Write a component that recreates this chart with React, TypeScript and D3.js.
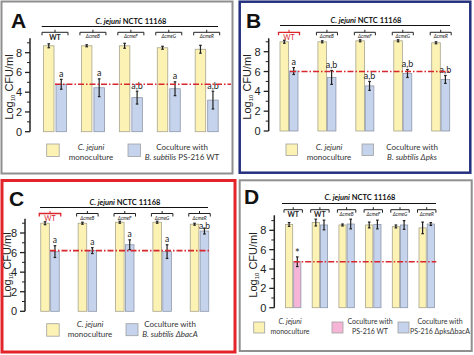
import React from "react";
import * as d3 from "d3";

// ---------- data ----------
const strainsABC = ["WT", "ΔcmeB", "ΔcmeF", "ΔcmeG", "ΔcmeR"];
const strainsD = ["WT", "WT", "ΔcmeB", "ΔcmeF", "ΔcmeG", "ΔcmeR"];
const yTicks = [0, 2, 4, 6, 8];
const yMinorTicks = [1, 3, 5, 7, 9];

const monoA = [8.7, 8.7, 8.7, 8.5, 8.35];
const monoErrA = [0.2, 0.1, 0.25, 0.15, 0.4];
const coA = [4.8, 4.45, 3.45, 4.35, 3.2];
const coErrA = [0.5, 0.9, 0.65, 0.7, 0.9];
const sigA = ["a", "a", "a,b", "a", "a,b"];
const refA = 4.8;

const monoB = [9.0, 9.0, 9.1, 9.1, 8.9];
const monoErrB = [0.15, 0.1, 0.1, 0.1, 0.1];
const coB = [6.05, 5.4, 4.55, 5.8, 5.2];
const coErrB = [0.35, 0.7, 0.45, 0.4, 0.4];
const sigB = ["a", "a,b", "a,b", "a,b", "a,b"];
const refB = 6.0;

const monoC = [9.0, 9.0, 9.1, 9.1, 8.9];
const monoErrC = [0.15, 0.1, 0.1, 0.1, 0.1];
const coC = [6.1, 6.2, 6.8, 6.1, 8.2];
const coErrC = [0.6, 0.3, 0.5, 0.7, 0.3];
const sigC = ["a", "a", "a", "a", "a,b"];
const refC = 6.2;

const monoD = [8.6, 8.8, 8.55, 8.55, 8.4, 8.25];
const monoErrD = [0.2, 0.35, 0.1, 0.3, 0.15, 0.6];
const coD = [4.75, 8.55, 8.65, 8.6, 8.55, 8.65];
const coErrD = [0.5, 0.5, 0.5, 0.45, 0.45, 0.15];
const sigD = ["*", "", "", "", "", ""];
const refD = 4.75;

// ---------- styles ----------
const YELLOW = "#fcf2b3";
const BLUE = "#c5d3ec";
const PINK = "#f6b5d6";
const RED = "#d8262c";
const SANS = "'Liberation Sans', Arial, sans-serif";
const CAL = "Lato, 'Open Sans', sans-serif";

type Part = { t: string; it?: boolean };
type LegendItem = { sx: number; sy: number; size: number; color: string; tx: number; ty: number; lines: Part[][] };

type PanelCfg = {
  label: string; lx: number; ly: number;
  border: string; bw: number; rect: [number, number, number, number];
  axisX: number; y0: number; y8: number; yTop: number;
  firstC: number; lastC: number; barW: number; gap: number;
  titleX: number; titleY: number; lineX1: number; lineX2: number; lineY: number;
  bracketY: number; refX1: number; refX2: number;
  strains: string[]; mono: number[]; monoErr: number[]; co: number[]; coErr: number[];
  coColors: string[]; sig: string[]; sigFs: number; ref: number; wtRed: boolean; wtBold: boolean;
  ylx: number; yly: number; legendFs: number; legend: LegendItem[];
};

const panels: PanelCfg[] = [
  {
    label: "A", lx: 11, ly: 28, border: "#8f8f8f", bw: 2, rect: [1.5, 1.5, 231, 172],
    axisX: 30, y0: 131.7, y8: 52.7, yTop: 38.3,
    firstC: 55, lastC: 206.7, barW: 10.5, gap: 2,
    titleX: 131, titleY: 23.5, lineX1: 41.7, lineX2: 218, lineY: 26.5,
    bracketY: 32.3, refX1: 55, refX2: 231,
    strains: strainsABC, mono: monoA, monoErr: monoErrA, co: coA, coErr: coErrA,
    coColors: strainsABC.map(() => BLUE), sig: sigA, sigFs: 9, ref: refA, wtRed: false, wtBold: true,
    ylx: 13, yly: 87, legendFs: 8,
    legend: [
      { sx: 46.7, sy: 144, size: 12.5, color: YELLOW, tx: 91, ty: 150, lines: [[{ t: "C. jejuni", it: true }], [{ t: "monoculture" }]] },
      { sx: 128, sy: 144, size: 12.5, color: BLUE, tx: 182, ty: 150, lines: [[{ t: "Coculture with" }], [{ t: "B. subtilis", it: true }, { t: " PS-216 WT" }]] },
    ],
  },
  {
    label: "B", lx: 246, ly: 28, border: "#24307e", bw: 2.5, rect: [239.7, 1.7, 230.6, 171],
    axisX: 268.7, y0: 131, y8: 51.7, yTop: 38.3,
    firstC: 289, lastC: 440.7, barW: 8.6, gap: 0.8,
    titleX: 366, titleY: 23, lineX1: 280, lineX2: 450, lineY: 25.5,
    bracketY: 32.3, refX1: 290, refX2: 450,
    strains: strainsABC, mono: monoB, monoErr: monoErrB, co: coB, coErr: coErrB,
    coColors: strainsABC.map(() => BLUE), sig: sigB, sigFs: 9, ref: refB, wtRed: true, wtBold: false,
    ylx: 251, yly: 87, legendFs: 8,
    legend: [
      { sx: 286, sy: 144, size: 11.5, color: YELLOW, tx: 329, ty: 150, lines: [[{ t: "C. jejuni", it: true }], [{ t: "monoculture" }]] },
      { sx: 362, sy: 144, size: 11.5, color: BLUE, tx: 412, ty: 150, lines: [[{ t: "Coculture with" }], [{ t: "B. subtilis Δpks", it: true }]] },
    ],
  },
  {
    label: "C", lx: 9, ly: 206, border: "#e3242a", bw: 3, rect: [2, 180.5, 233, 171.5],
    axisX: 25, y0: 311.3, y8: 233, yTop: 218.7,
    firstC: 50, lastC: 199.5, barW: 8.6, gap: 1.3,
    titleX: 125, titleY: 204.5, lineX1: 40, lineX2: 208, lineY: 207.5,
    bracketY: 213.5, refX1: 50, refX2: 210,
    strains: strainsABC, mono: monoC, monoErr: monoErrC, co: coC, coErr: coErrC,
    coColors: strainsABC.map(() => BLUE), sig: sigC, sigFs: 8.5, ref: refC, wtRed: true, wtBold: false,
    ylx: 11, yly: 265, legendFs: 8,
    legend: [
      { sx: 46.7, sy: 323.7, size: 12.5, color: YELLOW, tx: 90, ty: 327, lines: [[{ t: "C. jejuni", it: true }], [{ t: "monoculture" }]] },
      { sx: 126, sy: 323.7, size: 12, color: BLUE, tx: 170, ty: 327, lines: [[{ t: "Coculture with" }], [{ t: "B. subtilis ΔbacA", it: true }]] },
    ],
  },
  {
    label: "D", lx: 244, ly: 204, border: "#8f8f8f", bw: 2, rect: [239.7, 180.3, 232, 170.7],
    axisX: 274.3, y0: 307.7, y8: 230.3, yTop: 215.3,
    firstC: 293.2, lastC: 426.7, barW: 7.2, gap: 1,
    titleX: 360, titleY: 200, lineX1: 282, lineX2: 436, lineY: 203.5,
    bracketY: 209.7, refX1: 293.7, refX2: 436.3,
    strains: strainsD, mono: monoD, monoErr: monoErrD, co: coD, coErr: coErrD,
    coColors: strainsD.map((_, i) => (i === 0 ? PINK : BLUE)), sig: sigD, sigFs: 11, ref: refD, wtRed: false, wtBold: true,
    ylx: 257, yly: 265, legendFs: 7,
    legend: [
      { sx: 253.7, sy: 322, size: 11, color: YELLOW, tx: 290, ty: 324, lines: [[{ t: "C. jejuni", it: true }], [{ t: "monoculture" }]] },
      { sx: 332, sy: 322, size: 11, color: PINK, tx: 370, ty: 324, lines: [[{ t: "Coculture with" }], [{ t: "PS-216 WT" }]] },
      { sx: 398, sy: 322, size: 11, color: BLUE, tx: 440, ty: 324, lines: [[{ t: "Coculture with" }], [{ t: "PS-216 ΔpksΔbacA" }]] },
    ],
  },
];

function ErrorBar({ x, yTop, yBot }: { x: number; yTop: number; yBot: number }) {
  return (
    <g stroke="#222" strokeWidth={1.2}>
      <line x1={x} x2={x} y1={yTop} y2={yBot} />
      <line x1={x - 1.3} x2={x + 1.3} y1={yTop} y2={yTop} />
      <line x1={x - 1.3} x2={x + 1.3} y1={yBot} y2={yBot} />
    </g>
  );
}

function Panel({ p }: { p: PanelCfg }) {
  const y = d3.scaleLinear().domain([0, 8]).range([p.y0, p.y8]);
  const n = p.strains.length;
  const gx = d3.scaleLinear().domain([0, n - 1]).range([p.firstC, p.lastC]);
  const [rx, ry, rw, rh] = p.rect;
  return (
    <g>
      <rect x={rx} y={ry} width={rw} height={rh} fill="#fff" stroke={p.border} strokeWidth={p.bw} />
      <text x={p.lx} y={p.ly} fontFamily={SANS} fontWeight="bold" fontSize={21} fill="#111">{p.label}</text>
      {/* title */}
      <text x={p.titleX} y={p.titleY} textAnchor="middle" fontFamily={CAL} fontWeight="bold" fontSize={7.5} fill="#111">
        <tspan fontStyle="italic">C. jejuni</tspan>
        <tspan> NCTC 11168</tspan>
      </text>
      <line x1={p.lineX1} x2={p.lineX2} y1={p.lineY} y2={p.lineY} stroke="#111" strokeWidth={1.2} />
      {/* brackets */}
      {p.strains.map((s, i) => {
        const c = gx(i);
        const half = p.gap / 2 + p.barW + 1.5;
        const x1 = c - half, x2 = c + half;
        const isWT = s === "WT";
        const col = isWT && p.wtRed ? RED : "#222";
        const by = p.bracketY;
        return (
          <g key={"br" + i}>
            <path d={`M${x1},${by + 3}V${by}H${x2}V${by + 3}`} fill="none" stroke={col} strokeWidth={isWT && p.wtRed ? 1.3 : 1} />
            <line x1={c} x2={c} y1={by} y2={by - 2.5} stroke={col} strokeWidth={1} />
            <text x={c} y={by + (isWT ? 7.5 : 6)} textAnchor="middle" fontFamily={CAL}
              fontSize={isWT ? 7 : 4.8} fontWeight={isWT && p.wtBold ? "bold" : "normal"}
              fontStyle={isWT ? "normal" : "italic"} fill={col}>{s}</text>
          </g>
        );
      })}
      {/* axis */}
      <line x1={p.axisX} x2={p.axisX} y1={y(0)} y2={p.yTop} stroke="#222" strokeWidth={1.5} />
      {yTicks.map((t) => (
        <g key={"t" + t}>
          <line x1={p.axisX - 5} x2={p.axisX} y1={y(t)} y2={y(t)} stroke="#222" strokeWidth={1.3} />
          <text x={p.axisX - 8} y={y(t) + 4} textAnchor="end" fontFamily={SANS} fontSize={11} fill="#222">{t}</text>
        </g>
      ))}
      {yMinorTicks.map((t) => (
        <line key={"m" + t} x1={p.axisX - 3} x2={p.axisX} y1={y(t)} y2={y(t)} stroke="#222" strokeWidth={1} />
      ))}
      <text transform={`translate(${p.ylx},${p.yly}) rotate(-90)`} textAnchor="middle" fontFamily={SANS} fontSize={11} fill="#222">
        <tspan>Log</tspan>
        <tspan fontSize={6} dy={2}>10</tspan>
        <tspan dy={-2}> CFU/ml</tspan>
      </text>
      {/* bars */}
      {p.strains.map((_, i) => {
        const c = gx(i);
        const xm = c - p.gap / 2 - p.barW;
        const xc = c + p.gap / 2;
        const topErr = y(p.co[i] + p.coErr[i]);
        const sigY = Math.max(topErr - (p.sig[i] === "*" ? 0 : 2.5), p.bracketY + 15);
        return (
          <g key={"b" + i}>
            <rect x={xm} y={y(p.mono[i])} width={p.barW} height={y(0) - y(p.mono[i])} fill={YELLOW} stroke="#a8a58f" strokeWidth={0.8} />
            <rect x={xc} y={y(p.co[i])} width={p.barW} height={y(0) - y(p.co[i])} fill={p.coColors[i]} stroke="#8e97ab" strokeWidth={0.8} />
            <ErrorBar x={xm + p.barW / 2} yTop={y(p.mono[i] + p.monoErr[i])} yBot={y(p.mono[i] - p.monoErr[i])} />
            <ErrorBar x={xc + p.barW / 2} yTop={topErr} yBot={y(p.co[i] - p.coErr[i])} />
            {p.sig[i] && (
              <text x={xc + p.barW / 2} y={sigY} textAnchor="middle" fontFamily={CAL}
                fontSize={p.sigFs} fill="#222">{p.sig[i]}</text>
            )}
          </g>
        );
      })}
      {/* reference line */}
      <line x1={p.refX1} x2={p.refX2} y1={y(p.ref)} y2={y(p.ref)} stroke={RED} strokeWidth={1.6} strokeDasharray="6,2,1.5,2" />
      {/* legend */}
      {p.legend.map((L, k) => (
        <g key={"l" + k}>
          <rect x={L.sx} y={L.sy} width={L.size} height={L.size} fill={L.color} stroke="#a0a0a0" strokeWidth={0.8} />
          {L.lines.map((ln, j) => (
            <text key={j} x={L.tx} y={L.ty + j * 10} textAnchor="middle" fontFamily={CAL} fontSize={p.legendFs} fill="#333">
              {ln.map((pt, q) => (
                <tspan key={q} fontStyle={pt.it ? "italic" : "normal"}>{pt.t}</tspan>
              ))}
            </text>
          ))}
        </g>
      ))}
    </g>
  );
}

export default function App() {
  return (
    <svg width={474} height={355} style={{ position: "fixed", left: 0, top: 0, background: "#fff" }}>
      {panels.map((p) => (
        <Panel key={p.label} p={p} />
      ))}
    </svg>
  );
}
